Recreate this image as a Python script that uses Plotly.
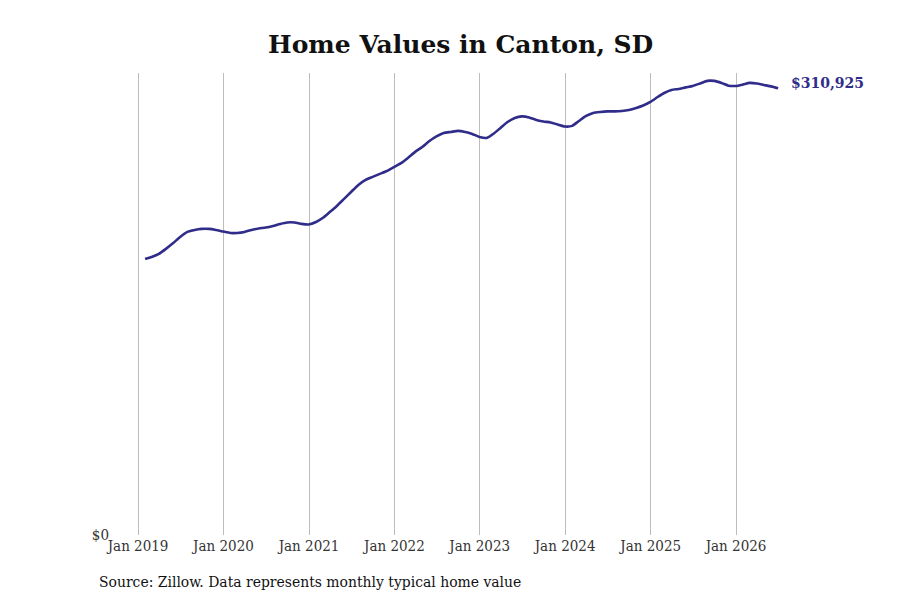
import pandas as pd
import plotly.graph_objects as go

# typical home value, month-end, Jan 2019 - Jun 2026
values_2019 = [192100, 193500, 195600, 199100, 203200, 207400, 210900, 212300, 213000, 213000, 212300, 211200]
values_2020 = [210200, 210200, 210900, 212300, 213300, 214000, 215100, 216500, 217500, 217500, 216500, 216100]
values_2021 = [217800, 220600, 224800, 229000, 233900, 238700, 243600, 247100, 249200, 251300, 253300, 256100]
values_2022 = [258900, 262400, 266600, 270000, 274200, 277400, 279800, 280500, 281200, 280500, 279100, 277000]
values_2023 = [276300, 279100, 283300, 287400, 290200, 291300, 290600, 288800, 287800, 287100, 285700, 284300]
values_2024 = [284700, 288100, 291600, 293700, 294400, 294800, 294800, 295100, 295800, 297200, 298900, 301400]
values_2025 = [304800, 307600, 309700, 310400, 311500, 312500, 314200, 316000, 316000, 314600, 312700, 312500]
values_2026 = [313500, 314600, 314200, 313200, 312200, 310925]

values = (values_2019 + values_2020 + values_2021 + values_2022
          + values_2023 + values_2024 + values_2025 + values_2026)
dates = pd.date_range("2019-01-31", periods=len(values), freq="ME")

tick_dates = [f"{y}-01-01" for y in range(2019, 2027)]
tick_labels = [f"Jan {y}" for y in range(2019, 2027)]

line_color = "#302d8a"

fig = go.Figure()
fig.add_trace(go.Scatter(
    x=dates, y=values, mode="lines",
    line=dict(color=line_color, width=2.6, shape="spline", smoothing=0.6),
    hoverinfo="skip", showlegend=False,
))

fig.add_annotation(
    x=dates[-1], y=values[-1], text=f"<b>${values[-1]:,}</b>",
    xanchor="left", yanchor="middle", xshift=11, yshift=5,
    showarrow=False, font=dict(family="DejaVu Serif", size=14, color=line_color),
)
fig.add_annotation(
    x=-0.019, y=-0.102, xref="paper", yref="paper",
    text="Source: Zillow. Data represents monthly typical home value",
    xanchor="left", yanchor="middle", showarrow=False,
    font=dict(family="DejaVu Serif Condensed", size=15.5, color="#111111"),
)

fig.update_layout(
    width=900, height=600,
    title=dict(text="<b>Home Values in Canton, SD</b>", x=0.503, xanchor="center",
               y=0.94, yanchor="middle",
               font=dict(family="DejaVu Serif", size=25, color="#111111")),
    margin=dict(l=102, r=128, t=65, b=73),
    plot_bgcolor="white", paper_bgcolor="white",
    font=dict(family="DejaVu Serif Condensed", size=15, color="#333333"),
)
fig.update_xaxes(
    range=["2018-09-03", "2026-07-08"],
    tickvals=tick_dates, ticktext=tick_labels,
    showgrid=True, gridcolor="#bdbdbd", gridwidth=1,
    showline=False, zeroline=False, ticks="",
)
fig.update_yaxes(
    range=[0, 321500], tickvals=[0], ticktext=["$0"],
    showgrid=False, zeroline=False, showline=False, ticks="",
)

fig.write_html("out.html")
